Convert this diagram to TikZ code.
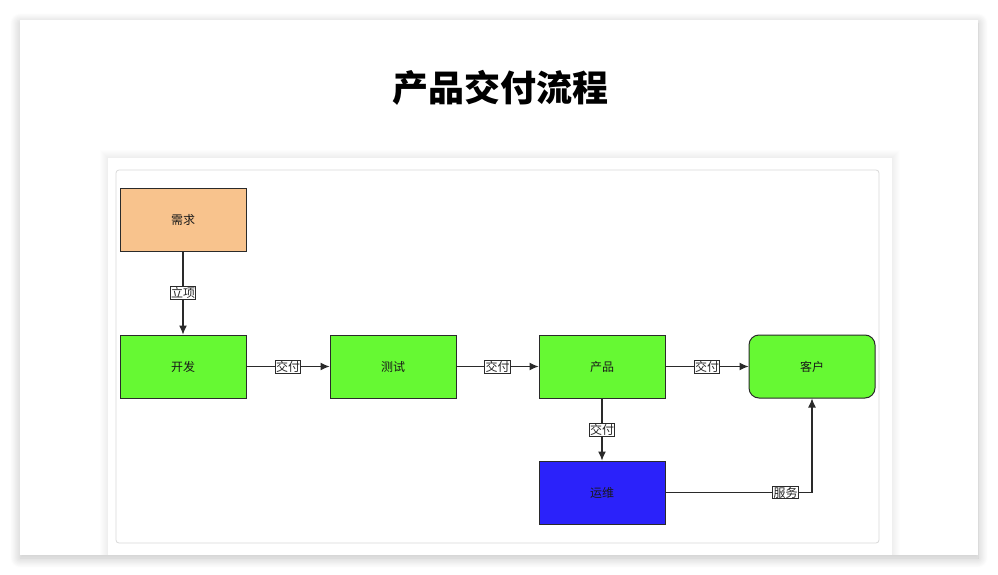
\documentclass[tikz,border=0pt]{standalone}
\usepackage{fontspec}
\setmainfont{Noto Sans CJK SC}
\usepackage{xcolor}
\usetikzlibrary{arrows.meta,shadows.blur}

\definecolor{reqorange}{HTML}{F8C38D}
\definecolor{stepgreen}{HTML}{66F933}
\definecolor{opsblue}{HTML}{2B22FA}
\definecolor{linegray}{HTML}{2A2A2A}

\begin{document}
\begin{tikzpicture}[x=1pt,y=-1pt,
  box/.style={draw=linegray,line width=1pt,minimum width=126pt,minimum height=63pt,
    inner sep=0pt,font=\fontsize{12}{14}\selectfont,text=black!90},
  lbl/.style={draw=linegray,line width=0.7pt,fill=white,inner sep=0.8pt,
    font=\fontsize{12}{14}\selectfont,text=black!85},
  flow/.style={draw=linegray,line width=1.1pt,-{Latex[length=9pt,width=8pt]}}]
\useasboundingbox (0,0) rectangle (998,575);

% card and panel
\fill [white,blur shadow={shadow blur steps=12,shadow xshift=0pt,shadow yshift=-3pt,shadow blur radius=10pt,shadow opacity=25}] (20,20) rectangle (978,555);
\foreach \d in {1,...,8}
  \fill [black,opacity=0.008] (108-\d,158-\d) rectangle (892+\d,555);
\fill [white] (108,158) rectangle (892,555);
\draw [black!15,line width=0.8pt,rounded corners=3pt] (116,170) rectangle (879,543);

\node [font=\fontsize{36}{40}\selectfont\bfseries] (title) at (500,88) {产品交付流程};

% boxes
\node [box,fill=reqorange] (req) at (183,219.5) {需求};
\node [box,fill=stepgreen] (dev) at (183,366.5) {开发};
\node [box,fill=stepgreen] (test) at (393,366.5) {测试};
\node [box,fill=stepgreen] (prod) at (602,366.5) {产品};
\node [box,fill=stepgreen,rounded corners=10pt] (cust) at (812,366.5) {客户};
\node [box,fill=opsblue] (ops) at (602,492.5) {运维};
\coordinate (bend) at (cust.south |- ops.east);

% connectors
\draw [flow] (req) -- node [lbl,pos=0.5] {立项} (dev);
\draw [flow] (dev) -- node [lbl,pos=0.5] {交付} (test);
\draw [flow] (test) -- node [lbl,pos=0.5] {交付} (prod);
\draw [flow] (prod) -- node [lbl,pos=0.5] {交付} (cust);
\draw [flow] (prod) -- node [lbl,pos=0.5] {交付} (ops);
\draw [flow] (ops.east) -- node [lbl,pos=0.82] {服务} (bend) -- (cust.south);
\end{tikzpicture}
\end{document}
